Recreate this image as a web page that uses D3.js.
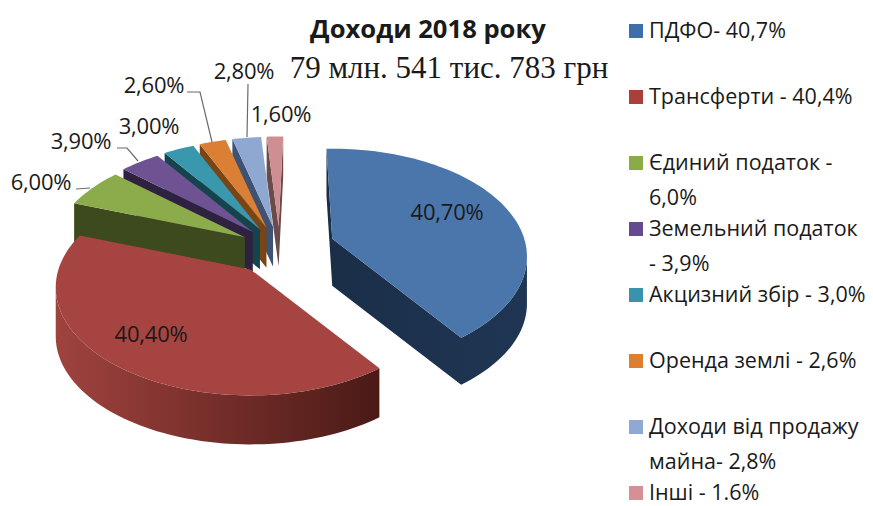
<!DOCTYPE html>
<html>
<head>
<meta charset="utf-8">
<script src="https://cdnjs.cloudflare.com/ajax/libs/d3/7.8.5/d3.min.js"></script>
<style>
html,body{margin:0;padding:0;background:#fff;}
svg{display:block;}
text{fill:#1a1a1a;}
</style>
</head>
<body>
<div id="chart"></div>
<script>
// data
const categories = ['ПДФО','Трансферти','Єдиний податок','Земельний податок','Акцизний збір','Оренда землі','Доходи від продажу майна','Інші'];
const shares = [40.7,40.4,6.0,3.9,3.0,2.6,2.8,1.6];
const pieLabels = ['40,70%','40,40%','6,00%','3,90%','3,00%','2,60%','2,80%','1,60%'];
const legendLines = [
	['ПДФО- 40,7%'],
	['Трансферти - 40,4%'],
	['Єдиний податок -','6,0%'],
	['Земельний податок','- 3,9%'],
	['Акцизний збір - 3,0%'],
	['Оренда землі - 2,6%'],
	['Доходи від продажу','майна- 2,8%'],
	['Інші - 1.6%']
];

// look
const topColors = ['#4a76ab','#a54441','#8cab4b','#6f5292','#3997ae','#da7f34','#8fa8d2','#cf8f92'];
const wallColors = ['url(#wall-blue)','url(#wall-red)','#3c4a1d','#2f2240','#15444f','#7a4514','#3f5272','#6b4a4a'];
const swatchColors = ['#3e6fa8','#ab3f3c','#8aab45','#664a8e','#3a93ad','#dd7f31','#8fa9d4','#d68f94'];

// how far each slice is pulled out of the pie, and its wall height
const explode = [.29,.25,.21,.21,.21,.21,.21,.21];
const wallHeight = [47,49,40,40,40,40,40,40];
// back to front
const drawOrder = [7,6,5,4,3,2,1,0];

const width = 873, height = 506;
const center = {x:279.5,y:248.5};
const rx = 192, ryBase = 105, persp = .1667;

const svg = d3.select('#chart').append('svg')
	.attr('width',width)
	.attr('height',height)
	.attr('viewBox',`0 0 ${width} ${height}`);

const defs = svg.append('defs');
function wallGradient(id,x1,x2,stops){
	const g = defs.append('linearGradient')
		.attr('id',id)
		.attr('gradientUnits','userSpaceOnUse')
		.attr('x1',x1).attr('x2',x2).attr('y1',0).attr('y2',0);
	g.selectAll('stop').data(stops).enter().append('stop')
		.attr('offset',d => d[0])
		.attr('stop-color',d => d[1]);
}
wallGradient('wall-red',55,380,[[0,'#a0433f'],[.45,'#7a302c'],[1,'#4a1a16']]);
wallGradient('wall-blue',330,530,[[0,'#1a2e48'],[1,'#1f3654']]);

// the labels add up to 101%, d3.pie would squeeze that into a full turn
// so the angles come from a plain scale and the last slice overlaps a little at the back
const startAngle = -2*Math.PI/180;
const angle = d3.scaleLinear().domain([0,100]).range([startAngle,startAngle+2*Math.PI]);
const cumulative = [0].concat(Array.from(d3.cumsum(shares)));
const slices = shares.map((d,i) => ({startAngle:angle(cumulative[i]),endAngle:angle(cumulative[i+1])}));

// unit circle -> screen, no explode
function project(u,v){
	const s = 1/(1-persp*v);
	return [rx*u*s, ryBase*v*s];
}
function apexOf(i){
	const d = slices[i];
	const mid = (d.startAngle+d.endAngle)/2;
	return [center.x+rx*explode[i]*Math.sin(mid), center.y-ryBase*explode[i]*Math.cos(mid)];
}
function rimOf(i){
	const d = slices[i];
	const a = apexOf(i);
	const n = Math.max(2,Math.ceil((d.endAngle-d.startAngle)/.03));
	return d3.range(n+1).map(k => {
		const t = d.startAngle+(d.endAngle-d.startAngle)*k/n;
		const p = project(Math.sin(t),-Math.cos(t));
		return [a[0]+p[0],a[1]+p[1]];
	});
}

const line = d3.line();
const plot = svg.append('g').attr('class','plot');

drawOrder.forEach(i => {
	const apex = apexOf(i);
	const rim = rimOf(i);
	const poly = [apex].concat(rim,[apex]);
	const h = wallHeight[i];
	const g = plot.append('g').attr('class','slice');

	// walls that face the viewer, one path so the pieces leave no seams
	const faces = d3.pairs(poly).filter(e => e[1][0] < e[0][0]);
	g.append('path')
		.attr('class','wall')
		.attr('d',faces.map(e => line([e[0],e[1],[e[1][0],e[1][1]+h],[e[0][0],e[0][1]+h]])+'Z').join(''))
		.attr('fill',wallColors[i]);

	g.append('path')
		.attr('class','top')
		.attr('d',line(poly)+'Z')
		.attr('fill',topColors[i]);
});

// leaders
const leaders = [
	[[76,189],[90,188]],
	[[117,148],[127,148],[138,161]],
	[[187,92],[200,92],[212,142]],
	[[248,84],[247,137]]
];
svg.append('g').selectAll('path')
	.data(leaders)
	.enter().append('path')
	.attr('d',d => line(d))
	.attr('fill','none')
	.attr('stroke','#6b6b6b')
	.attr('stroke-width',1.2);

// labels on the pie
const labelPos = [[447,220],[151,342],[41,190],[81,149],[149,134],[154,93],[244,79],[281,122]];
svg.append('g').selectAll('text')
	.data(pieLabels)
	.enter().append('text')
	.attr('x',(d,i) => labelPos[i][0])
	.attr('y',(d,i) => labelPos[i][1])
	.attr('text-anchor','middle')
	.style('font-family','"Open Sans"')
	.style('font-size','22px')
	.style('letter-spacing','-.2px')
	.text(d => d);

// title
svg.append('text')
	.attr('x',428).attr('y',38)
	.attr('text-anchor','middle')
	.style('font-family','"Open Sans"')
	.style('font-weight',700)
	.style('font-size','25.6px')
	.text('Доходи 2018 року');
svg.append('text')
	.attr('x',449).attr('y',78)
	.attr('text-anchor','middle')
	.style('font-family','"Liberation Serif"')
	.style('font-size','31px')
	.text('79 млн. 541 тис. 783 грн');

// legend
const legendY = d3.scalePoint().domain(d3.range(categories.length)).range([31,493]);
const legend = svg.append('g').attr('class','legend')
	.selectAll('g')
	.data(categories)
	.enter().append('g')
	.attr('transform',(d,i) => `translate(629,${legendY(i)})`);
legend.append('rect')
	.attr('x',0).attr('y',-7)
	.attr('width',14).attr('height',14)
	.attr('fill',(d,i) => swatchColors[i]);
legend.each(function(d,i){
	d3.select(this).selectAll('text')
		.data(legendLines[i])
		.enter().append('text')
		.attr('x',20)
		.attr('y',(t,k) => 7+k*35)
		.style('font-family','"Open Sans"')
		.style('font-size','21.5px')
		.text(t => t);
});
</script>
</body>
</html>
